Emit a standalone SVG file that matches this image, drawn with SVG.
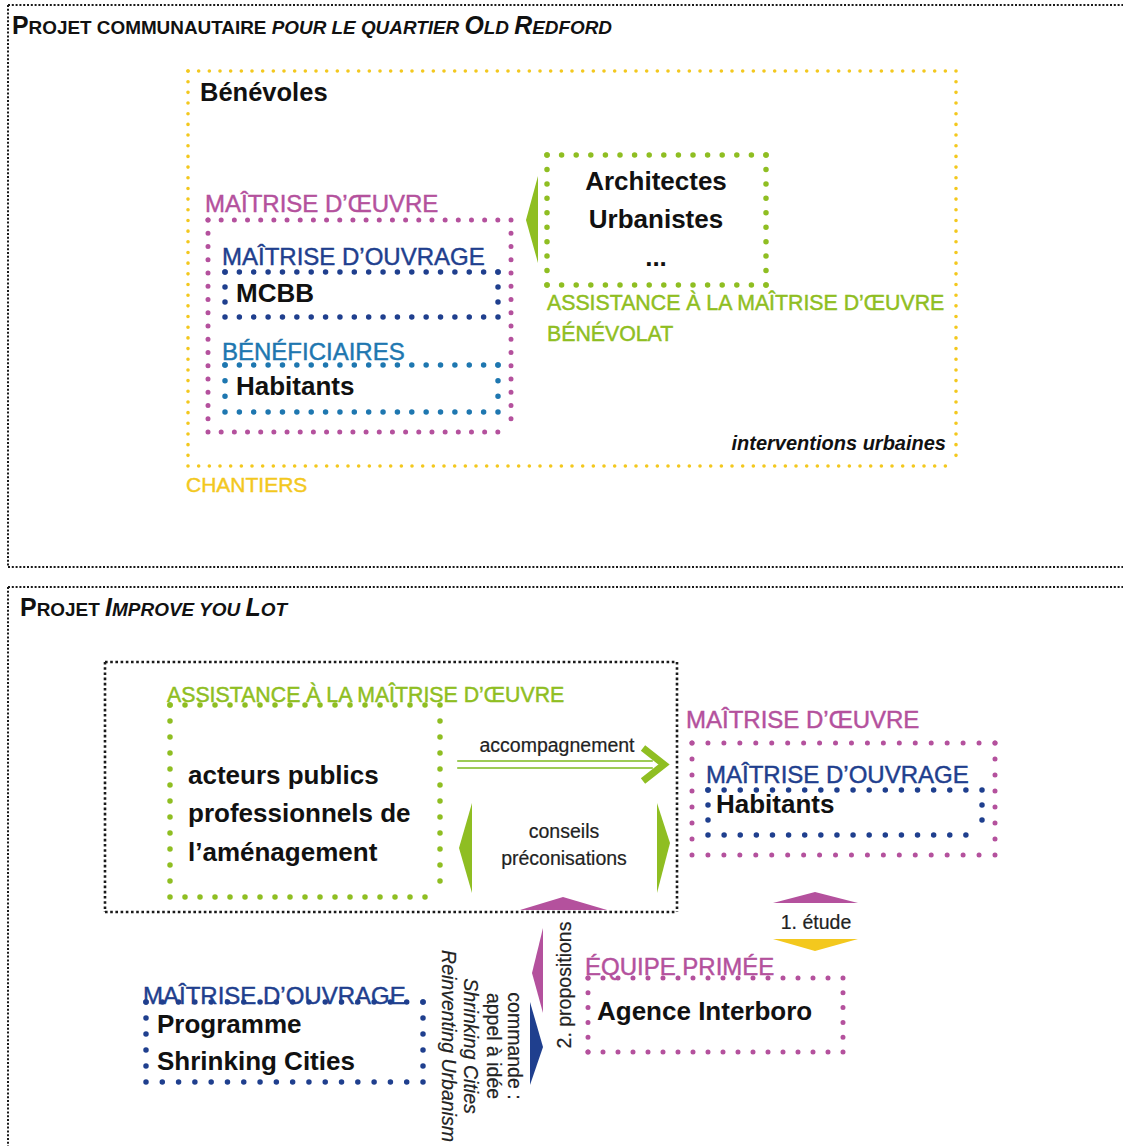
<svg xmlns="http://www.w3.org/2000/svg" width="1123" height="1146" viewBox="0 0 1123 1146">
<style>
text{font-family:"Liberation Sans",Arial,Helvetica,sans-serif}
line{fill:none;stroke-linecap:round}
.y{stroke:#f3c81e;stroke-width:3.6}
.g{stroke:#8fbe22;stroke-width:5.5}
.m{stroke:#b4519d;stroke-width:5}
.n{stroke:#1f3f8e;stroke-width:5.5}
.lb{stroke:#1e77b0;stroke-width:5.5}
.k{fill:none;stroke:#1a1a1a;stroke-width:2;stroke-dasharray:2 1.8;stroke-linecap:butt}
.kb{fill:none;stroke:#1a1a1a;stroke-width:2.6;stroke-dasharray:2.6 2.6;stroke-linecap:butt}
.lbl{font-size:24px;stroke-width:0.45}
.fm{fill:#b4519d}.fg{fill:#8fbe22}.fn{fill:#1f3f8e}.flb{fill:#1e77b0}.fy{fill:#f3c81e}
text.fm{stroke:#b4519d}text.fg{stroke:#8fbe22;stroke-width:0.45}text.fn{stroke:#1f3f8e}text.flb{stroke:#1e77b0}text.fy{stroke:#f3c81e;stroke-width:0.45}
.b{font-weight:bold;font-size:26px;fill:#111}
.s{font-size:19.5px;fill:#222;stroke:#222;stroke-width:0.2}
.title{font-weight:bold;font-size:19px;fill:#111}
.big{font-size:25px}
</style>

<g id="panel-top">
  <line class="k" x1="8" y1="5" x2="1123" y2="5"/>
  <line class="k" x1="8" y1="567" x2="1123" y2="567"/>
  <line class="k" x1="8" y1="5" x2="8" y2="567"/>
  <text class="title" x="12" y="34" textLength="600" lengthAdjust="spacingAndGlyphs"><tspan class="big">P</tspan>ROJET COMMUNAUTAIRE <tspan font-style="italic">POUR LE QUARTIER <tspan class="big">O</tspan>LD <tspan class="big">R</tspan>EDFORD</tspan></text>
</g>

<g id="panel-bottom">
  <line class="k" x1="8" y1="587" x2="1123" y2="587"/>
  <line class="k" x1="8" y1="587" x2="8" y2="1146"/>
  <text class="title" x="20" y="616" textLength="267" lengthAdjust="spacingAndGlyphs"><tspan class="big">P</tspan>ROJET <tspan font-style="italic"><tspan class="big">I</tspan>MPROVE YOU <tspan class="big">L</tspan>OT</tspan></text>
</g>

<g id="chantiers">
  <line class="y" x1="188" y1="71" x2="956" y2="71" stroke-dasharray="0 10.667"/>
  <line class="y" x1="188" y1="466" x2="956" y2="466" stroke-dasharray="0 10.667"/>
  <line class="y" x1="188" y1="71" x2="188" y2="466" stroke-dasharray="0 10.676"/>
  <line class="y" x1="956" y1="71" x2="956" y2="466" stroke-dasharray="0 10.676"/>
  <text x="200" y="101" font-weight="bold" font-size="25.5" fill="#111">Bénévoles</text>
  <text x="946" y="450" text-anchor="end" font-weight="bold" font-style="italic" font-size="20" fill="#111">interventions urbaines</text>
  <text class="fy" x="186" y="492" font-size="21">CHANTIERS</text>
</g>

<g id="assistance-benevolat">
  <line class="g" x1="547" y1="155" x2="766" y2="155" stroke-dasharray="0 14.6"/>
  <line class="g" x1="547" y1="285" x2="766" y2="285" stroke-dasharray="0 14.6"/>
  <line class="g" x1="547" y1="155" x2="547" y2="285" stroke-dasharray="0 14.444"/>
  <line class="g" x1="766" y1="155" x2="766" y2="285" stroke-dasharray="0 14.444"/>
  <text class="b" x="656" y="190" text-anchor="middle">Architectes</text>
  <text class="b" x="656" y="228" text-anchor="middle">Urbanistes</text>
  <text class="b" x="656" y="266" text-anchor="middle">...</text>
  <text class="fg" x="547" y="310" font-size="21.3">ASSISTANCE À LA MAÎTRISE D’ŒUVRE</text>
  <text class="fg" x="547" y="341" font-size="21.3">BÉNÉVOLAT</text>
</g>

<g id="maitrise-oeuvre-top">
  <text class="fm lbl" x="205" y="212">MAÎTRISE D’ŒUVRE</text>
  <line class="m" x1="208" y1="220" x2="511" y2="220" stroke-dasharray="0 13.174"/>
  <line class="m" x1="208" y1="432" x2="511" y2="432" stroke-dasharray="0 13.174"/>
  <line class="m" x1="208" y1="220" x2="208" y2="432" stroke-dasharray="0 13.25"/>
  <line class="m" x1="511" y1="220" x2="511" y2="432" stroke-dasharray="0 13.25"/>
</g>

<g id="maitrise-ouvrage-mcbb">
  <text class="fn lbl" x="222" y="265">MAÎTRISE D’OUVRAGE</text>
  <line class="n" x1="225" y1="272" x2="498" y2="272" stroke-dasharray="0 14.368"/>
  <line class="n" x1="225" y1="317" x2="498" y2="317" stroke-dasharray="0 14.368"/>
  <line class="n" x1="225" y1="272" x2="225" y2="317" stroke-dasharray="0 15"/>
  <line class="n" x1="498" y1="272" x2="498" y2="317" stroke-dasharray="0 15"/>
  <text class="b" x="236" y="302" font-size="25.5">MCBB</text>
</g>

<g id="beneficiaires">
  <text class="flb lbl" x="222" y="360">BÉNÉFICIAIRES</text>
  <line class="lb" x1="225" y1="365" x2="498" y2="365" stroke-dasharray="0 14.368"/>
  <line class="lb" x1="225" y1="412" x2="498" y2="412" stroke-dasharray="0 14.368"/>
  <line class="lb" x1="225" y1="365" x2="225" y2="412" stroke-dasharray="0 15.667"/>
  <line class="lb" x1="498" y1="365" x2="498" y2="412" stroke-dasharray="0 15.667"/>
  <text class="b" x="236" y="395" font-size="25.8">Habitants</text>
</g>

<g id="improve-frame">
  <line class="kb" x1="105" y1="662" x2="677" y2="662"/>
  <line class="kb" x1="105" y1="912" x2="677" y2="912"/>
  <line class="kb" x1="105" y1="662" x2="105" y2="912"/>
  <line class="kb" x1="677" y1="662" x2="677" y2="912"/>
</g>

<g id="assistance-acteurs">
  <text class="fg" x="167" y="702" font-size="21.3">ASSISTANCE À LA MAÎTRISE D’ŒUVRE</text>
  <line class="g" x1="170" y1="705" x2="440" y2="705" stroke-dasharray="0 15"/>
  <line class="g" x1="170" y1="897" x2="440" y2="897" stroke-dasharray="0 15"/>
  <line class="g" x1="170" y1="705" x2="170" y2="897" stroke-dasharray="0 16"/>
  <line class="g" x1="440" y1="705" x2="440" y2="897" stroke-dasharray="0 16"/>
  <text class="b" x="188" y="784">acteurs publics</text>
  <text class="b" x="188" y="822">professionnels de</text>
  <text class="b" x="188" y="861">l’aménagement</text>
</g>

<g id="maitrise-oeuvre-habitants">
  <text class="fm lbl" x="686" y="728">MAÎTRISE D’ŒUVRE</text>
  <line class="m" x1="692" y1="743" x2="995" y2="743" stroke-dasharray="0 15.947"/>
  <line class="m" x1="692" y1="855" x2="995" y2="855" stroke-dasharray="0 15.947"/>
  <line class="m" x1="692" y1="743" x2="692" y2="855" stroke-dasharray="0 16"/>
  <line class="m" x1="995" y1="743" x2="995" y2="855" stroke-dasharray="0 16"/>
  <text class="fn lbl" x="706" y="783">MAÎTRISE D’OUVRAGE</text>
  <line class="n" x1="708" y1="790" x2="982" y2="790" stroke-dasharray="0 16.118"/>
  <line class="n" x1="708" y1="835" x2="982" y2="835" stroke-dasharray="0 16.118"/>
  <line class="n" x1="708" y1="790" x2="708" y2="835" stroke-dasharray="0 15"/>
  <line class="n" x1="982" y1="790" x2="982" y2="835" stroke-dasharray="0 15"/>
  <text class="b" x="716" y="813" font-size="25.5">Habitants</text>
</g>

<g id="equipe-primee">
  <text class="fm lbl" x="585" y="975">ÉQUIPE PRIMÉE</text>
  <line class="m" x1="588" y1="978" x2="843" y2="978" stroke-dasharray="0 15"/>
  <line class="m" x1="588" y1="1052" x2="843" y2="1052" stroke-dasharray="0 15"/>
  <line class="m" x1="588" y1="978" x2="588" y2="1052" stroke-dasharray="0 14.8"/>
  <line class="m" x1="843" y1="978" x2="843" y2="1052" stroke-dasharray="0 14.8"/>
  <text class="b" x="597" y="1020">Agence Interboro</text>
</g>

<g id="maitrise-ouvrage-shrinking">
  <text class="fn lbl" x="143" y="1004">MAÎTRISE D’OUVRAGE</text>
  <line class="n" x1="146" y1="1002" x2="423" y2="1002" stroke-dasharray="0 16.294"/>
  <line class="n" x1="146" y1="1082" x2="423" y2="1082" stroke-dasharray="0 16.294"/>
  <line class="n" x1="146" y1="1002" x2="146" y2="1082" stroke-dasharray="0 16"/>
  <line class="n" x1="423" y1="1002" x2="423" y2="1082" stroke-dasharray="0 16"/>
  <text class="b" x="157" y="1033">Programme</text>
  <text class="b" x="157" y="1070">Shrinking Cities</text>
</g>

<g id="connectors">
  <polygon class="fg" points="526,220 538,176 538,263"/>
  <line x1="458" y1="761" x2="652" y2="761" stroke="#9dcb56" stroke-width="2.2"/>
  <line x1="458" y1="768" x2="652" y2="768" stroke="#9dcb56" stroke-width="2.2"/>
  <polyline points="643,748 664,764.5 643,781" fill="none" stroke="#8fbe22" stroke-width="7" stroke-linejoin="miter"/>
  <text class="s" x="557" y="752" text-anchor="middle">accompagnement</text>
  <polygon class="fg" points="459,848 472,803 472,893"/>
  <polygon class="fg" points="657,803 657,893 670,843"/>
  <text class="s" x="564" y="838" text-anchor="middle">conseils</text>
  <text class="s" x="564" y="865" text-anchor="middle">préconisations</text>
  <polygon class="fm" points="520,910 607,910 563,897"/>
  <polygon class="fm" points="773,903 858,903 815,892"/>
  <text class="s" x="816" y="929" text-anchor="middle">1. étude</text>
  <polygon class="fy" points="773,939 858,939 815,951"/>
  <polygon class="fm" points="543,928 543,1013 532,973"/>
  <text class="s" transform="translate(571,985) rotate(-90)" text-anchor="middle" font-size="19">2. propositions</text>
  <polygon class="fn" points="530,1002 530,1085 543,1047"/>
  <text class="s" transform="translate(508,1046) rotate(90)" text-anchor="middle" font-size="19">commande :</text>
  <text class="s" transform="translate(487,1046) rotate(90)" text-anchor="middle" font-size="15">appel à idée</text>
  <text class="s" transform="translate(464,1046) rotate(90)" text-anchor="middle" font-size="14.5" font-style="italic">Shrinking Cities</text>
  <text class="s" transform="translate(442,1046) rotate(90)" text-anchor="middle" font-size="15" font-style="italic">Reinventing Urbanism</text>
</g>
</svg>
